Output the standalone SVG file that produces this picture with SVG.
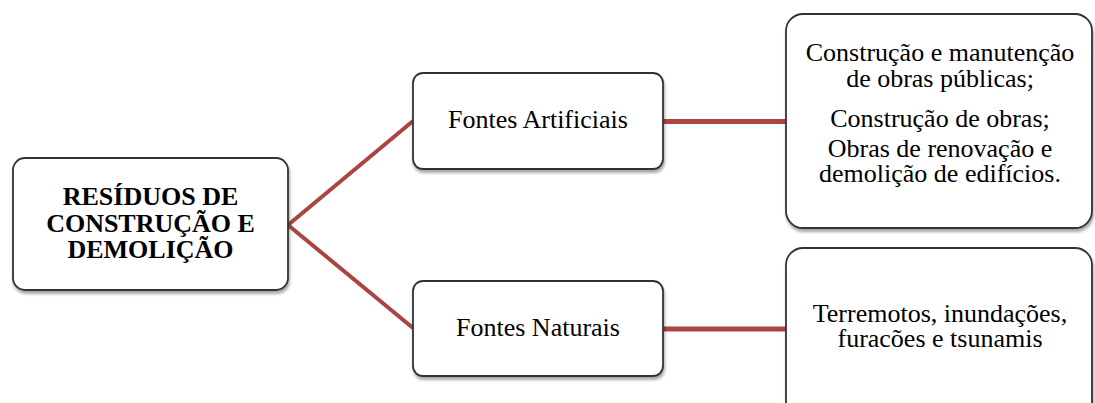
<svg xmlns="http://www.w3.org/2000/svg" width="1095" height="403" viewBox="0 0 1095 403">
<style>
.box{fill:#ffffff;stroke:#333333;stroke-width:1.8;filter:url(#sh)}
.t{font-family:"Liberation Serif","Times New Roman",serif;font-size:26px;fill:#000;text-anchor:middle}
.b{font-weight:bold}
.c{stroke:#ab4542;fill:none;stroke-linecap:butt}
</style>
<defs>
<filter id="sh" x="-10%" y="-10%" width="120%" height="130%">
<feGaussianBlur in="SourceAlpha" stdDeviation="1.5"/>
<feOffset dx="1" dy="2.5" result="o"/>
<feComponentTransfer><feFuncA type="linear" slope="0.35"/></feComponentTransfer>
<feMerge><feMergeNode/><feMergeNode in="SourceGraphic"/></feMerge>
</filter>
</defs>
<g id="connectors">
<line class="c" x1="288" y1="225" x2="413" y2="121" stroke-width="4"/>
<line class="c" x1="288" y1="225" x2="413" y2="328" stroke-width="4"/>
<line class="c" x1="663" y1="121.5" x2="786" y2="121.5" stroke-width="5"/>
<line class="c" x1="663" y1="329" x2="786" y2="329" stroke-width="5"/>
</g>
<g id="root">
<rect class="box" x="13" y="158" width="275" height="132" rx="12"/>
<text class="t b" x="150.5" y="205">RESÍDUOS DE</text>
<text class="t b" x="150.5" y="231.5">CONSTRUÇÃO E</text>
<text class="t b" x="150.5" y="258">DEMOLIÇÃO</text>
</g>
<g id="fontes-artificiais">
<rect class="box" x="413" y="73" width="250" height="96" rx="10"/>
<text class="t" x="538" y="128">Fontes Artificiais</text>
</g>
<g id="fontes-naturais">
<rect class="box" x="413" y="281" width="250" height="95" rx="10"/>
<text class="t" x="538" y="336">Fontes Naturais</text>
</g>
<g id="artificiais-detalhe">
<rect class="box" x="786" y="14" width="306" height="214" rx="17"/>
<text class="t" x="940" y="60.5">Construção e manutenção</text>
<text class="t" x="940" y="86.5">de obras públicas;</text>
<text class="t" x="940" y="127">Construção de obras;</text>
<text class="t" x="940" y="156.5">Obras de renovação e</text>
<text class="t" x="940" y="181.5">demolição de edifícios.</text>
</g>
<g id="naturais-detalhe">
<rect class="box" x="786" y="248" width="306" height="214" rx="17"/>
<text class="t" x="940" y="321.5">Terremotos, inundações,</text>
<text class="t" x="940" y="346.5">furacões e tsunamis</text>
</g>
</svg>
